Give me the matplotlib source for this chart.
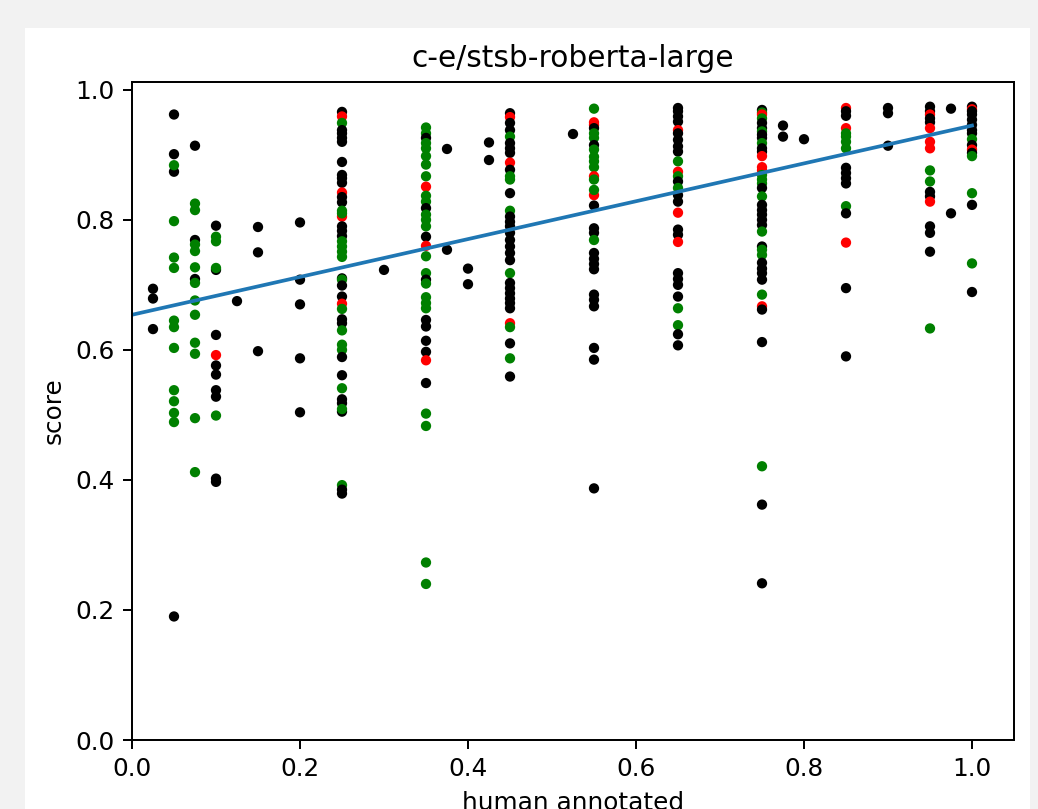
import matplotlib
matplotlib.use("Agg")
import matplotlib.pyplot as plt
from matplotlib.patches import Rectangle

# human annotated score (x), model score (y) and point colour, column by column
human = []
score = []
colour = []

def add(x, pts):
    for y, c in pts:
        human.append(x)
        score.append(y)
        colour.append(c)

K, G, R = "black", "green", "red"

add(0.025, [(0.694, K), (0.679, K), (0.632, K)])
add(0.05, [(0.962, K), (0.901, K), (0.874, K), (0.884, G), (0.798, G), (0.742, G), (0.726, G),
           (0.645, G), (0.635, G), (0.603, G), (0.538, G), (0.521, G), (0.503, G), (0.489, G), (0.190, K)])
add(0.075, [(0.914, K), (0.825, G), (0.815, G), (0.769, K), (0.762, G), (0.752, G), (0.727, G),
            (0.709, K), (0.703, G), (0.676, G), (0.654, G), (0.611, G), (0.594, G), (0.495, G), (0.412, G)])
add(0.1, [(0.791, K), (0.774, G), (0.767, G), (0.723, K), (0.726, G), (0.623, K), (0.592, R),
          (0.576, K), (0.562, K), (0.538, K), (0.528, K), (0.499, G), (0.402, K), (0.397, K)])
add(0.125, [(0.675, K)])
add(0.15, [(0.789, K), (0.750, K), (0.598, K)])
add(0.2, [(0.796, K), (0.708, K), (0.670, K), (0.587, K), (0.504, K)])
add(0.25, [(0.966, K), (0.959, R), (0.949, G), (0.938, K), (0.933, K), (0.926, K), (0.920, K),
           (0.889, K), (0.869, K), (0.864, K), (0.857, K), (0.842, R), (0.835, K), (0.827, K),
           (0.805, R), (0.814, G), (0.810, G), (0.790, K), (0.783, K), (0.775, K), (0.767, G),
           (0.759, G), (0.751, G), (0.743, G), (0.710, K), (0.708, G), (0.699, K), (0.682, K),
           (0.671, R), (0.663, G), (0.647, K), (0.641, K), (0.630, G), (0.608, G), (0.600, G),
           (0.589, K), (0.561, K), (0.541, G), (0.524, K), (0.518, K), (0.505, K), (0.509, G),
           (0.392, G), (0.385, K), (0.379, K)])
add(0.3, [(0.723, K)])
add(0.35, [(0.942, G), (0.933, G), (0.926, K), (0.918, G), (0.910, G), (0.898, G), (0.885, G),
           (0.867, G), (0.851, R), (0.837, G), (0.828, G), (0.818, K), (0.808, G), (0.800, G),
           (0.790, G), (0.774, K), (0.760, R), (0.744, G), (0.718, G), (0.708, K), (0.702, G),
           (0.681, G), (0.672, G), (0.664, G), (0.646, K), (0.636, K), (0.614, K), (0.597, K),
           (0.584, R), (0.549, K), (0.502, G), (0.483, G), (0.273, G), (0.240, G)])
add(0.375, [(0.909, K), (0.754, K)])
add(0.4, [(0.725, K), (0.701, K)])
add(0.425, [(0.919, K), (0.892, K)])
add(0.45, [(0.964, K), (0.958, R), (0.949, K), (0.938, K), (0.928, G), (0.918, K), (0.910, K),
           (0.903, K), (0.888, R), (0.877, K), (0.867, G), (0.862, G), (0.841, K), (0.814, G),
           (0.805, K), (0.797, K), (0.790, K), (0.780, K), (0.769, K), (0.759, K), (0.749, K),
           (0.738, K), (0.718, G), (0.703, K), (0.695, K), (0.687, K), (0.679, K), (0.672, K),
           (0.664, K), (0.641, R), (0.635, G), (0.610, K), (0.587, G), (0.559, K)])
add(0.525, [(0.932, K)])
add(0.55, [(0.971, G), (0.950, R), (0.946, R), (0.941, K), (0.933, G), (0.926, G), (0.915, K),
           (0.908, G), (0.897, G), (0.890, G), (0.881, G), (0.867, R), (0.862, G), (0.838, R),
           (0.846, G), (0.822, K), (0.787, K), (0.780, K), (0.769, G), (0.749, K), (0.740, K),
           (0.732, K), (0.724, K), (0.685, K), (0.677, K), (0.667, K), (0.603, K), (0.585, K),
           (0.387, K)])
add(0.65, [(0.972, K), (0.967, K), (0.959, K), (0.951, K), (0.938, R), (0.933, K), (0.923, K),
           (0.913, K), (0.905, K), (0.890, G), (0.874, R), (0.867, G), (0.859, K), (0.849, G),
           (0.838, K), (0.828, K), (0.811, R), (0.785, K), (0.777, K), (0.766, R), (0.718, K),
           (0.709, K), (0.700, K), (0.682, K), (0.664, G), (0.638, G), (0.624, K), (0.607, K)])
add(0.75, [(0.969, K), (0.965, G), (0.962, R), (0.956, G), (0.949, K), (0.941, K), (0.936, G),
           (0.931, K), (0.926, K), (0.918, G), (0.910, K), (0.905, K), (0.898, R), (0.881, R),
           (0.876, R), (0.869, G), (0.862, G), (0.856, G), (0.849, K), (0.836, G), (0.823, K),
           (0.815, K), (0.808, K), (0.800, K), (0.792, K), (0.782, G), (0.759, K), (0.754, G),
           (0.746, G), (0.734, K), (0.725, K), (0.718, K), (0.708, K), (0.685, G), (0.667, R),
           (0.662, K), (0.612, K), (0.421, G), (0.362, K), (0.241, K)])
add(0.775, [(0.945, K), (0.928, K)])
add(0.8, [(0.924, K)])
add(0.85, [(0.972, R), (0.967, K), (0.960, K), (0.941, R), (0.933, G), (0.928, G), (0.920, G),
           (0.910, G), (0.880, K), (0.872, K), (0.864, K), (0.856, K), (0.821, G), (0.810, K),
           (0.765, R), (0.695, K), (0.590, K)])
add(0.9, [(0.972, K), (0.964, K), (0.914, K)])
add(0.95, [(0.974, K), (0.967, K), (0.962, R), (0.956, K), (0.950, K), (0.941, R), (0.920, R),
           (0.910, R), (0.876, G), (0.859, G), (0.843, K), (0.836, K), (0.828, R), (0.790, K),
           (0.780, K), (0.751, K), (0.633, G)])
add(0.975, [(0.971, K), (0.810, K)])
add(1.0, [(0.974, K), (0.970, R), (0.967, K), (0.962, K), (0.954, K), (0.946, K), (0.938, K),
          (0.933, K), (0.924, G), (0.915, K), (0.908, R), (0.903, K), (0.898, G), (0.841, G),
          (0.823, K), (0.733, G), (0.689, K)])

# regression line end points
fit_x = [0.0, 1.0]
fit_y = [0.654, 0.945]

W, H, DPI = 1038, 809, 178
fig = plt.figure(figsize=(W / DPI, H / DPI), dpi=DPI, facecolor="#f2f2f2")
fig.patches.append(Rectangle((25 / W, 0), (1030 - 25) / W, (809 - 28) / H,
                             transform=fig.transFigure, facecolor="white",
                             edgecolor="none", zorder=-10))

ax = fig.add_axes([132 / W, (H - 740) / H, (1014 - 132) / W, (740 - 82) / H])
ax.scatter(human, score, c=colour, s=10)
ax.plot(fit_x, fit_y)

ax.set_xlim(0, 1.05)
ax.set_ylim(0, 1.012)
ax.set_title("c-e/stsb-roberta-large")
ax.set_xlabel("human annotated")
ax.set_ylabel("score")

fig.savefig("out.png", dpi=DPI, facecolor=fig.get_facecolor())
